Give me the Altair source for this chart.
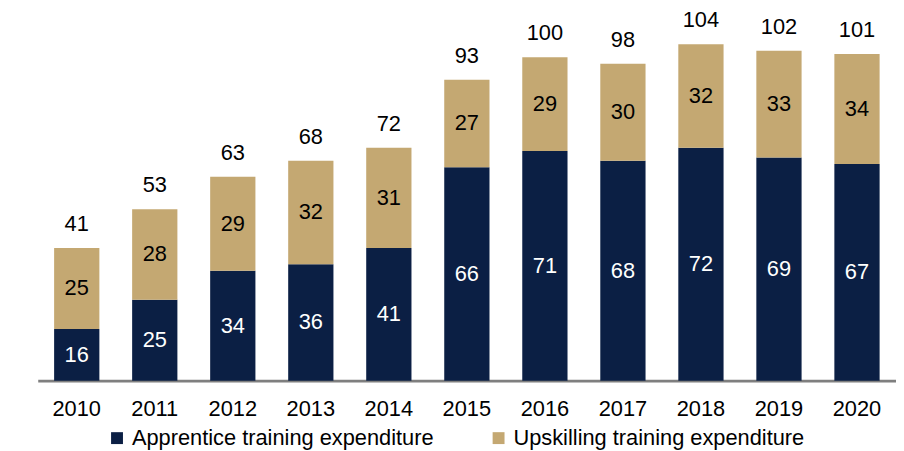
import altair as alt
import pandas as pd

years = ["2010", "2011", "2012", "2013", "2014", "2015", "2016", "2017", "2018", "2019", "2020"]
apprentice = [16, 25, 34, 36, 41, 66, 71, 68, 72, 69, 67]
upskilling = [25, 28, 29, 32, 31, 27, 29, 30, 32, 33, 34]
totals = [41, 53, 63, 68, 72, 93, 100, 98, 104, 102, 101]
series_names = ["Apprentice training expenditure", "Upskilling training expenditure"]
colors = ["#0B1F44", "#C4A872"]
text_colors = ["#FFFFFF", "#000000"]

rows = []
for i, y in enumerate(years):
    rows.append({"year": y, "series": series_names[0], "value": apprentice[i], "order": 0, "tcol": text_colors[0]})
    rows.append({"year": y, "series": series_names[1], "value": upskilling[i], "order": 1, "tcol": text_colors[1]})
df = pd.DataFrame(rows)
tot = pd.DataFrame({"year": years, "total": totals})

FONT = "Liberation Sans"
FS = 22
xenc = alt.X("year:N", sort=years, title=None,
             scale=alt.Scale(paddingInner=0.42, paddingOuter=0.21),
             axis=alt.Axis(labelAngle=0, ticks=False, domainColor="#7F7F7F", domainWidth=3,
                           labelFontSize=FS, labelColor="#000000", labelFont=FONT, labelPadding=18))
yscale = alt.Scale(domain=[0, 110], nice=False)

base = alt.Chart(df).transform_stack(
    stack="value", groupby=["year"], as_=["v0", "v1"], sort=[alt.SortField("order", order="ascending")]
)

bars = base.mark_bar().encode(
    x=xenc,
    y=alt.Y("v0:Q", scale=yscale, axis=None),
    y2="v1:Q",
    color=alt.Color("series:N", scale=alt.Scale(domain=series_names, range=colors),
                    legend=alt.Legend(title=None, orient="none", direction="horizontal",
                                      legendX=69, legendY=406, symbolType="square", symbolSize=144,
                                      symbolStrokeWidth=0, labelFontSize=FS, labelFont=FONT,
                                      labelColor="#000000", columnPadding=54, labelOffset=4,
                                      labelLimit=0)),
)

seg_text = base.transform_calculate(mid="(datum.v0 + datum.v1) / 2").mark_text(
    fontSize=FS, font=FONT, baseline="middle"
).encode(
    x=alt.X("year:N", sort=years),
    y=alt.Y("mid:Q", scale=yscale),
    text="value:Q",
    color=alt.Color("tcol:N", scale=None),
)

tot_text = alt.Chart(tot).mark_text(fontSize=FS, font=FONT, baseline="bottom", dy=-12, color="#000000").encode(
    x=alt.X("year:N", sort=years),
    y=alt.Y("total:Q", scale=yscale),
    text="total:Q",
)

chart = alt.layer(bars, seg_text, tot_text).properties(
    width=866, height=359,
    autosize=alt.AutoSizeParams(type="none"),
    padding={"left": 30, "top": 15, "right": 0, "bottom": 69},
).configure_view(stroke=None)

chart.save("out.html", embed_options={"renderer": "svg", "actions": False})
